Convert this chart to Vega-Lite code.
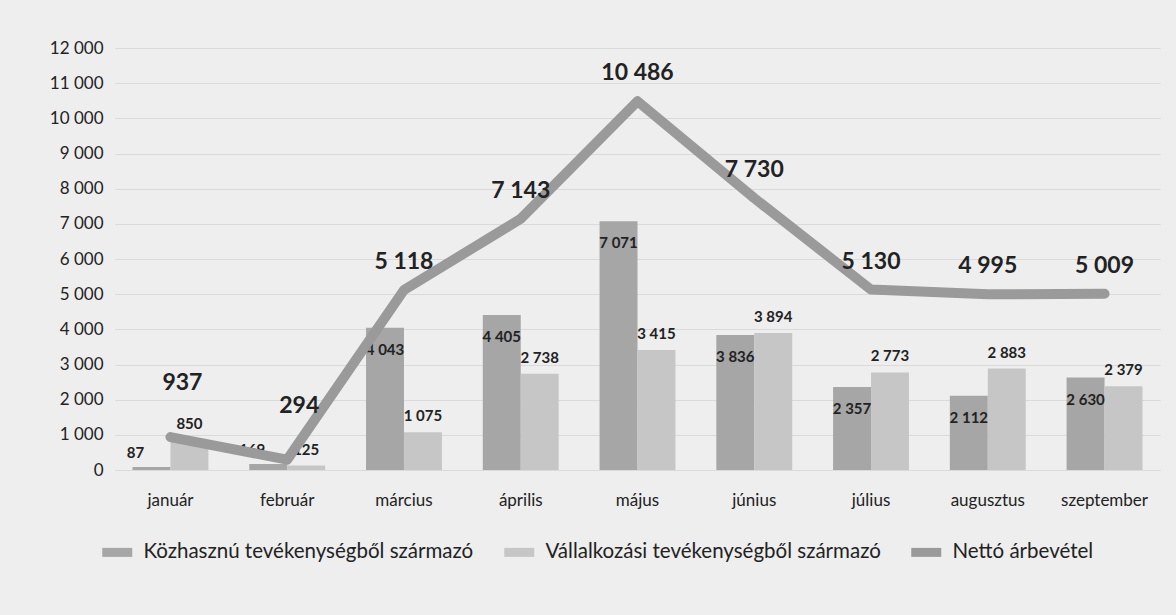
{
  "$schema": "https://vega.github.io/schema/vega-lite/v6.json",
  "width": 1045,
  "height": 422,
  "autosize": {"type": "none"},
  "padding": {"left": 115, "top": 48, "right": 16, "bottom": 145},
  "background": "#eeeeee",
  "config": {
    "locale": {"number": {"decimal": ",", "thousands": " ", "grouping": [3], "currency": ["", ""]}},
    "font": "Lato",
    "view": {"stroke": null}
  },
  "datasets": {
    "bars": [
      {"honap": "január", "sorozat": "Közhasznú tevékenységből származó", "ertek": 87},
      {"honap": "január", "sorozat": "Vállalkozási tevékenységből származó", "ertek": 850},
      {"honap": "február", "sorozat": "Közhasznú tevékenységből származó", "ertek": 169},
      {"honap": "február", "sorozat": "Vállalkozási tevékenységből származó", "ertek": 125},
      {"honap": "március", "sorozat": "Közhasznú tevékenységből származó", "ertek": 4043},
      {"honap": "március", "sorozat": "Vállalkozási tevékenységből származó", "ertek": 1075},
      {"honap": "április", "sorozat": "Közhasznú tevékenységből származó", "ertek": 4405},
      {"honap": "április", "sorozat": "Vállalkozási tevékenységből származó", "ertek": 2738},
      {"honap": "május", "sorozat": "Közhasznú tevékenységből származó", "ertek": 7071},
      {"honap": "május", "sorozat": "Vállalkozási tevékenységből származó", "ertek": 3415},
      {"honap": "június", "sorozat": "Közhasznú tevékenységből származó", "ertek": 3836},
      {"honap": "június", "sorozat": "Vállalkozási tevékenységből származó", "ertek": 3894},
      {"honap": "július", "sorozat": "Közhasznú tevékenységből származó", "ertek": 2357},
      {"honap": "július", "sorozat": "Vállalkozási tevékenységből származó", "ertek": 2773},
      {"honap": "augusztus", "sorozat": "Közhasznú tevékenységből származó", "ertek": 2112},
      {"honap": "augusztus", "sorozat": "Vállalkozási tevékenységből származó", "ertek": 2883},
      {"honap": "szeptember", "sorozat": "Közhasznú tevékenységből származó", "ertek": 2630},
      {"honap": "szeptember", "sorozat": "Vállalkozási tevékenységből származó", "ertek": 2379}
    ],
    "net": [
      {"honap": "január", "ertek": 937},
      {"honap": "február", "ertek": 294},
      {"honap": "március", "ertek": 5118},
      {"honap": "április", "ertek": 7143},
      {"honap": "május", "ertek": 10486},
      {"honap": "június", "ertek": 7730},
      {"honap": "július", "ertek": 5130},
      {"honap": "augusztus", "ertek": 4995},
      {"honap": "szeptember", "ertek": 5009}
    ]
  },
  "encoding": {
    "x": {
      "field": "honap", "type": "nominal",
      "sort": ["január", "február", "március", "április", "május", "június", "július", "augusztus", "szeptember"],
      "scale": {"paddingInner": 0.35, "paddingOuter": 0.15},
      "axis": {"title": null, "labelAngle": 0, "labelFontSize": 17, "labelColor": "#222222", "labelPadding": 22, "ticks": false, "domain": false}
    },
    "y": {
      "field": "ertek", "type": "quantitative",
      "scale": {"domain": [0, 12000]},
      "axis": {"title": null, "values": [0, 1000, 2000, 3000, 4000, 5000, 6000, 7000, 8000, 9000, 10000, 11000, 12000], "format": ",d", "labelOverlap": false, "labelFontSize": 17, "labelColor": "#222222", "labelPadding": 12, "ticks": false, "domain": false, "grid": true, "gridColor": "#dadada"}
    }
  },
  "layer": [
    {
      "data": {"name": "bars"},
      "mark": {"type": "bar"},
      "encoding": {
        "xOffset": {"field": "sorozat", "type": "nominal", "sort": ["Közhasznú tevékenységből származó", "Vállalkozási tevékenységből származó"]},
        "color": {
          "field": "sorozat", "type": "nominal",
          "scale": {"domain": ["Közhasznú tevékenységből származó", "Vállalkozási tevékenységből származó", "Nettó árbevétel"], "range": ["#a6a6a6", "#c6c6c6", "#9a9a9a"]},
          "legend": {"title": null, "orient": "none", "legendX": -8, "legendY": 494, "direction": "horizontal", "labelFontSize": 20.5, "labelColor": "#222222", "labelLimit": 0, "symbolType": "M-3,-0.9H3V0.9H-3Z", "symbolSize": 100, "symbolStrokeWidth": 0, "columnPadding": 30, "labelOffset": 16}
        }
      }
    },
    {
      "data": {"name": "bars"},
      "transform": [{"filter": "datum.sorozat === 'Közhasznú tevékenységből származó' && datum.ertek > 500"}],
      "mark": {"type": "text", "baseline": "middle", "dy": 22, "fontSize": 15, "fontWeight": "bold", "color": "#222222"},
      "encoding": {
        "xOffset": {"field": "sorozat", "type": "nominal", "sort": ["Közhasznú tevékenységből származó", "Vállalkozási tevékenységből származó"]},
        "text": {"field": "ertek", "type": "quantitative", "format": ",d"}
      }
    },
    {
      "data": {"name": "bars"},
      "transform": [{"filter": "datum.sorozat === 'Közhasznú tevékenységből származó' && datum.ertek <= 500"}],
      "mark": {"type": "text", "baseline": "bottom", "dy": -6, "dx": -16, "fontSize": 15, "fontWeight": "bold", "color": "#222222"},
      "encoding": {
        "xOffset": {"field": "sorozat", "type": "nominal", "sort": ["Közhasznú tevékenységből származó", "Vállalkozási tevékenységből származó"]},
        "text": {"field": "ertek", "type": "quantitative", "format": ",d"}
      }
    },
    {
      "data": {"name": "bars"},
      "transform": [{"filter": "datum.sorozat === 'Vállalkozási tevékenységből származó'"}],
      "mark": {"type": "text", "baseline": "bottom", "dy": -8, "fontSize": 15, "fontWeight": "bold", "color": "#222222"},
      "encoding": {
        "xOffset": {"field": "sorozat", "type": "nominal", "sort": ["Közhasznú tevékenységből származó", "Vállalkozási tevékenységből származó"]},
        "text": {"field": "ertek", "type": "quantitative", "format": ",d"}
      }
    },
    {
      "data": {"name": "net"},
      "mark": {"type": "line", "strokeWidth": 10, "strokeCap": "round", "strokeJoin": "round"},
      "encoding": {
        "color": {"datum": "Nettó árbevétel"}
      }
    },
    {
      "data": {"name": "net"},
      "transform": [{"filter": "datum.ertek >= 1000"}],
      "mark": {"type": "text", "baseline": "bottom", "dy": -16, "fontSize": 23, "fontWeight": "bold", "color": "#222222"},
      "encoding": {
        "text": {"field": "ertek", "type": "quantitative", "format": ",d"}
      }
    },
    {
      "data": {"name": "net"},
      "transform": [{"filter": "datum.ertek < 1000"}],
      "mark": {"type": "text", "baseline": "bottom", "dy": -42, "dx": 12, "fontSize": 23, "fontWeight": "bold", "color": "#222222"},
      "encoding": {
        "text": {"field": "ertek", "type": "quantitative", "format": ",d"}
      }
    }
  ]
}
